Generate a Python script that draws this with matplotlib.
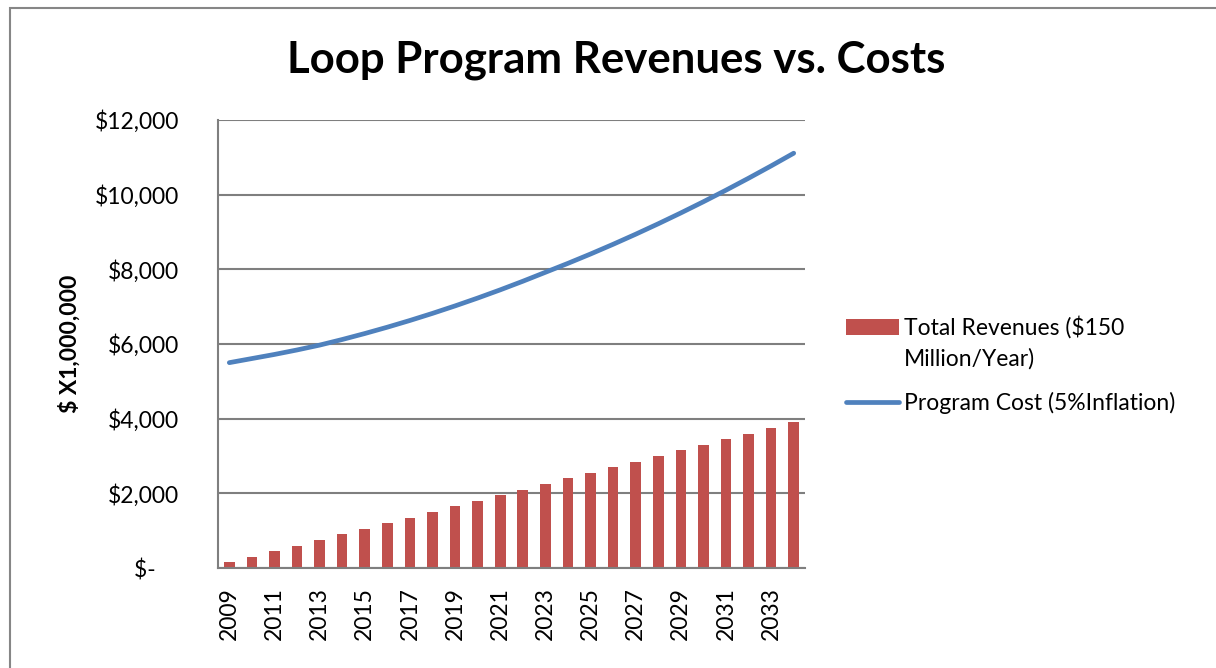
import numpy as np
import matplotlib.pyplot as plt
from matplotlib.patches import Rectangle
from matplotlib.container import BarContainer
from matplotlib.legend_handler import HandlerPatch

years = np.arange(2009, 2035)
revenues = [150, 300, 450, 600, 750, 900, 1050, 1200, 1350, 1500, 1650, 1800, 1950,
            2100, 2250, 2400, 2550, 2700, 2850, 3000, 3150, 3300, 3450, 3600, 3750, 3900]
cost = [5500, 5610, 5720, 5840, 5970, 6120, 6280, 6450, 6630, 6820, 7020, 7230, 7450,
        7680, 7920, 8160, 8410, 8670, 8940, 9220, 9510, 9810, 10120, 10440, 10770, 11110]
yticks = [0, 2000, 4000, 6000, 8000, 10000, 12000]
ytick_labels = ['$-    ', '$2,000', '$4,000', '$6,000', '$8,000', '$10,000', '$12,000']

plt.rcParams['font.family'] = ['Lato', 'DejaVu Sans']

fig = plt.figure(figsize=(12.16, 6.68), dpi=100)
ax = fig.add_axes([0.1793, 0.1497, 0.4827, 0.6707])

x = np.arange(len(years))
bars = ax.bar(x, revenues, width=0.47, color='#C0504D', label='Total Revenues ($150\nMillion/Year)', zorder=2)
line, = ax.plot(x, cost, color='#4F81BD', lw=3.4, solid_capstyle='round', label='Program Cost (5%Inflation)', zorder=3)

ax.set_xlim(-0.5, len(years) - 0.5)
ax.set_ylim(0, 12000)
ax.set_yticks(yticks)
ax.set_yticklabels(ytick_labels, fontsize=16.5)
ax.set_xticks(x[::2])
ax.set_xticklabels([str(y) for y in years[::2]], rotation=90, fontsize=16.5)
ax.tick_params(axis='x', length=0, pad=14)
ax.tick_params(axis='y', length=0, pad=28)
ax.grid(axis='y', color='#7f7f7f', lw=1.5, zorder=0)
ax.set_axisbelow(True)
for s in ['top', 'right']:
    ax.spines[s].set_visible(False)
for s in ['left', 'bottom']:
    ax.spines[s].set_color('#7f7f7f')
    ax.spines[s].set_linewidth(1.5)

ax.set_ylabel('$ X1,000,000', fontsize=16.5, fontweight='bold', labelpad=10)

fig.text(0.507, 0.91, 'Loop Program Revenues vs. Costs', ha='center', va='center',
         fontsize=31.5, fontweight='bold')


# put the red swatch next to the first text line, like Excel does
def top_patch(legend, orig_handle, xdescent, ydescent, width, height, fontsize):
    return Rectangle((-xdescent, -ydescent + 11.5), width, height)


bar_handler = HandlerPatch(patch_func=top_patch,
                           update_func=lambda h, orig: h.update_from(orig.patches[0]))

leg = ax.legend([bars, line], [bars.get_label(), line.get_label()],
                loc='upper left', bbox_to_anchor=(0.696, 0.528), bbox_transform=fig.transFigure,
                frameon=False, fontsize=16.5, handlelength=2.3, handletextpad=0.2, labelspacing=1.0,
                borderaxespad=0, borderpad=0, handler_map={BarContainer: bar_handler})
for t in leg.get_texts():
    t.set_linespacing(1.55)

fig.patches.append(Rectangle((10 / 1216, -0.05), 1.1, 1 - 8 / 668 + 0.05,
                             transform=fig.transFigure, fill=False, ec='#868686', lw=1.5))

plt.savefig('out.png', dpi=100)
